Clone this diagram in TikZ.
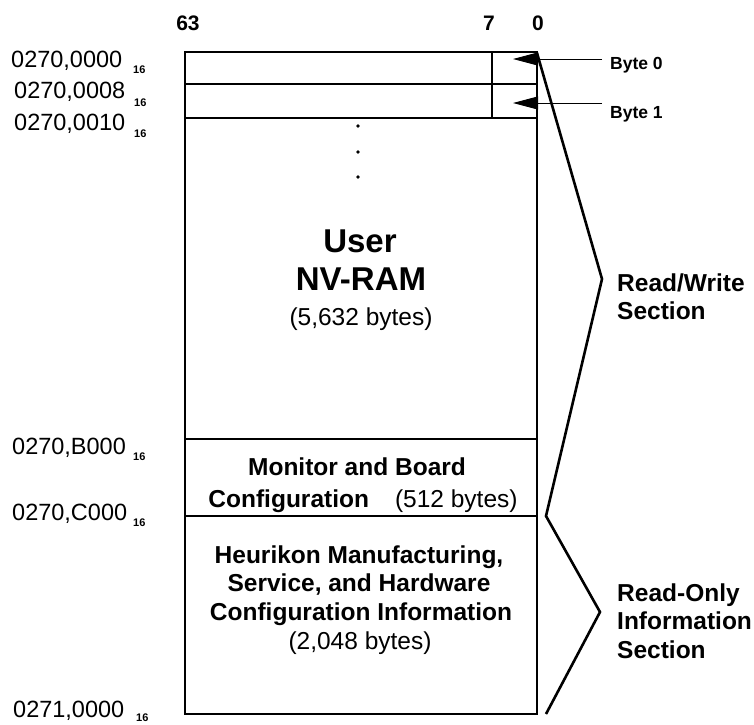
\documentclass[tikz,border=0pt]{standalone}
\usepackage{fontspec}
\setmainfont{Liberation Sans}
\usetikzlibrary{arrows.meta}
\begin{document}
\begin{tikzpicture}[x=1pt,y=-1pt,
  addr/.style={anchor=base west,font=\fontsize{23.5}{23.5}\selectfont,inner sep=0pt},
  sub/.style={anchor=base west,font=\bfseries\fontsize{11}{11}\selectfont,inner sep=0pt},
  head/.style={anchor=base,font=\bfseries\fontsize{21}{21}\selectfont,inner sep=0pt},
  big/.style={anchor=base,align=center,font=\bfseries\fontsize{33}{38}\selectfont,inner sep=0pt},
  txt/.style={anchor=base,inner sep=0pt,font=\fontsize{24.5}{28}\selectfont},
  btxt/.style={txt,font=\bfseries\fontsize{24.5}{28}\selectfont},
  side/.style={anchor=base west,inner sep=0pt,font=\bfseries\fontsize{24.5}{27}\selectfont},
  bl/.style={anchor=base west,font=\bfseries\fontsize{17.5}{17.5}\selectfont,inner sep=0pt},
  cell/.style={line width=1.2pt},
  brace/.style={line width=2.6pt,line join=miter},
  ptr/.style={line width=1pt,-{Triangle[length=25pt,width=13pt]}}]
\useasboundingbox (0,0) rectangle (754,724);
% memory map outline
\coordinate (tl) at (185,52);
\coordinate (br) at (537,714);
\draw[cell] (tl) rectangle (br);
\draw[cell] (185,84) -- (537,84);
\draw[cell] (185,118) -- (537,118);
\draw[cell] (492,52) -- (492,118);
\draw[cell] (185,439) -- (537,439);
\draw[cell] (185,516) -- (537,516);
% dots
\foreach \yy in {126,152,177} \fill (358,\yy) circle (1.8pt);
% header
\node[head] (h63) at (188,30) {63};
\node[head] (h7) at (489,30) {7};
\node[head] (h0) at (538,30) {0};
% addresses
\node[addr] (a0) at (11,67) {0270,0000};
\node[sub] (s0) at (133,73) {16};
\node[addr] (a1) at (14,98) {0270,0008};
\node[sub] (s1) at (134,106) {16};
\node[addr] (a2) at (14,130) {0270,0010};
\node[sub] (s2) at (134,137) {16};
\node[addr] (a3) at (12,454) {0270,B000};
\node[sub] (s3) at (133,460) {16};
\node[addr] (a4) at (12,520) {0270,C000};
\node[sub] (s4) at (133,526) {16};
\node[addr] (a5) at (13,717) {0271,0000};
\node[sub] (s5) at (136,721) {16};
% section texts
\node[big] (user1) at (360,252) {User};
\node[big] (user2) at (361,290) {NV-RAM};
\node[txt] (usz) at (361,325) {(5,632 bytes)};
\node[btxt] (mon1) at (357,475) {Monitor and Board};
\node[txt] (mon2) at (363,507) {\textbf{Configuration}\hspace{26pt}(512 bytes)};
\node[btxt] (heu1) at (359,563) {Heurikon Manufacturing,};
\node[btxt] (heu2) at (359,591) {Service, and Hardware};
\node[btxt] (heu3) at (361,620) {Configuration Information};
\node[txt] (heu4) at (360,649) {(2,048 bytes)};
% brackets
\coordinate (b1) at (537,53);
\coordinate (b2) at (602,279);
\coordinate (b3) at (546,516);
\coordinate (b4) at (600,612);
\coordinate (b5) at (546,714);
\draw[brace] (b1) -- (b2) -- (b3) -- (b4) -- (b5);
\node[side] (rw1) at (617,291) {Read/Write};
\node[side] (rw2) at (617,319) {Section};
\node[side] (ro1) at (617,601) {Read-Only};
\node[side] (ro2) at (617,629) {Information};
\node[side] (ro3) at (617,658) {Section};
% byte pointers
\node[bl] (by0) at (610,69) {Byte 0};
\node[bl] (by1) at (610,118) {Byte 1};
\coordinate (e0) at (602,59);
\coordinate (e1) at (602,103);
\coordinate (t0) at (513,59);
\coordinate (t1) at (513,103);
\draw[ptr] (e0) -- (t0);
\draw[ptr] (e1) -- (t1);
\end{tikzpicture}
\end{document}
